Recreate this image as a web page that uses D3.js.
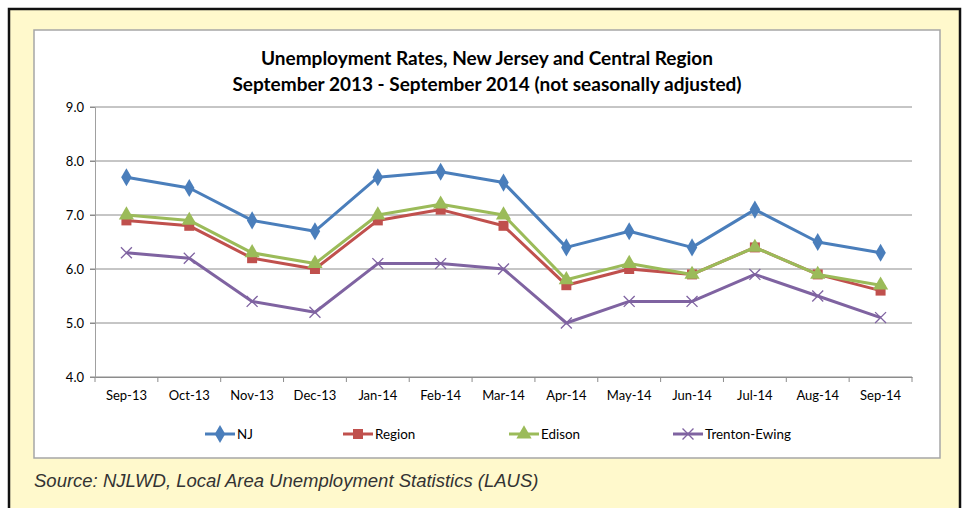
<!DOCTYPE html>
<html>
<head>
<meta charset="utf-8">
<script src="https://cdn.jsdelivr.net/npm/d3@7"></script>
<style>
  body { margin: 0; background: #ffffff; }
  svg text { font-family: Lato, "Open Sans", sans-serif; fill: #000; }
</style>
</head>
<body>
<div class="vis-holder"></div>
<script>
// months along the x axis
var months = ["Sep-13", "Oct-13", "Nov-13", "Dec-13", "Jan-14", "Feb-14", "Mar-14",
              "Apr-14", "May-14", "Jun-14", "Jul-14", "Aug-14", "Sep-14"];
// unemployment rate per series
var njRates      = [7.7, 7.5, 6.9, 6.7, 7.7, 7.8, 7.6, 6.4, 6.7, 6.4, 7.1, 6.5, 6.3];
var regionRates  = [6.9, 6.8, 6.2, 6.0, 6.9, 7.1, 6.8, 5.7, 6.0, 5.9, 6.4, 5.9, 5.6];
var edisonRates  = [7.0, 6.9, 6.3, 6.1, 7.0, 7.2, 7.0, 5.8, 6.1, 5.9, 6.4, 5.9, 5.7];
var trentonRates = [6.3, 6.2, 5.4, 5.2, 6.1, 6.1, 6.0, 5.0, 5.4, 5.4, 5.9, 5.5, 5.1];
var seriesNames  = ["NJ", "Region", "Edison", "Trenton-Ewing"];
var yTicks       = [4.0, 5.0, 6.0, 7.0, 8.0, 9.0];

var width = 964, height = 508;
var margin = { top: 107, bottom: 131, left: 95, right: 52 };

var svg = d3.select(".vis-holder")
            .append("svg")
            .attr("width", width)
            .attr("height", height);

// yellow frame with black border
svg.append("rect")
   .attr("x", 9).attr("y", 9)
   .attr("width", 951).attr("height", 510)
   .attr("fill", "#fff9cc")
   .attr("stroke", "#111")
   .attr("stroke-width", 2.5);

// white chart box
svg.append("rect")
   .attr("x", 34).attr("y", 30)
   .attr("width", 906).attr("height", 428)
   .attr("fill", "#fff")
   .attr("stroke", "#a6a6a6")
   .attr("stroke-width", 1.5);

var xScale = d3.scaleBand()
               .domain(months)
               .range([margin.left, width - margin.right]);

var yScale = d3.scaleLinear()
               .domain([4, 9])
               .range([height - margin.bottom, margin.top]);

// gridlines
svg.append("g")
   .selectAll("line")
   .data(yTicks)
   .enter()
   .append("line")
   .attr("x1", margin.left - 5)
   .attr("x2", width - margin.right)
   .attr("y1", function(d) { return yScale(d); })
   .attr("y2", function(d) { return yScale(d); })
   .attr("stroke", "#8c8c8c")
   .attr("stroke-width", 1);

// y axis
var yAxis = svg.append("g")
               .attr("transform", `translate(${margin.left}, 0)`)
               .call(d3.axisLeft(yScale).tickValues(yTicks).tickFormat(d3.format(".1f")).tickSize(5).tickPadding(6));
yAxis.select(".domain").attr("stroke", "#a0a0a0");
yAxis.selectAll(".tick line").attr("stroke", "#8c8c8c");
yAxis.selectAll("text").style("font-size", "13px");

// x axis, ticks on the category boundaries
var xAxis = svg.append("g")
               .attr("transform", `translate(0, ${yScale(4)})`)
               .call(d3.axisBottom(xScale).tickSize(0).tickPadding(14));
xAxis.select(".domain").attr("stroke", "#8c8c8c");
xAxis.selectAll("text").style("font-size", "13px");
xAxis.selectAll(".bound")
     .data(months.concat(["end"]))
     .enter()
     .append("line")
     .attr("x1", function(d, i) { return margin.left + i * xScale.step(); })
     .attr("x2", function(d, i) { return margin.left + i * xScale.step(); })
     .attr("y1", 0).attr("y2", 5)
     .attr("stroke", "#8c8c8c");

var colors = d3.scaleOrdinal()
               .domain(seriesNames)
               .range(["#4a7ebb", "#c0504d", "#9bbb59", "#7f63a1"]);

var seriesData = [njRates, regionRates, edisonRates, trentonRates];

var line = d3.line()
             .x(function(d, i) { return xScale(months[i]) + xScale.bandwidth() / 2; })
             .y(function(d) { return yScale(d); });

var symbols = [d3.symbolDiamond, d3.symbolSquare, d3.symbolTriangle, d3.symbolX];
var symbolSize = [95, 100, 100, 80];

function drawMarker(g, k, x, y) {
  var p = g.append("path")
           .attr("d", d3.symbol().type(symbols[k]).size(symbolSize[k])())
           .attr("transform", "translate(" + x + "," + y + ")");
  if (k === 3) {
    p.attr("fill", "none").attr("stroke", colors(seriesNames[k])).attr("stroke-width", 1.3);
  } else {
    p.attr("fill", colors(seriesNames[k]));
  }
}

seriesData.forEach(function(vals, k) {
  var g = svg.append("g");
  g.append("path")
   .attr("d", line(vals))
   .attr("fill", "none")
   .attr("stroke", colors(seriesNames[k]))
   .attr("stroke-width", 3)
   .attr("stroke-linejoin", "round");
  vals.forEach(function(v, i) {
    drawMarker(g, k, xScale(months[i]) + xScale.bandwidth() / 2, yScale(v));
  });
});

// legend
var legendX = [205, 343, 509, 673];
var legend = svg.append("g").attr("transform", "translate(0, 434)");
seriesNames.forEach(function(name, k) {
  var g = legend.append("g");
  g.append("line")
   .attr("x1", legendX[k]).attr("x2", legendX[k] + 30)
   .attr("y1", 0).attr("y2", 0)
   .attr("stroke", colors(name))
   .attr("stroke-width", 3);
  drawMarker(g, k, legendX[k] + 15, 0);
  g.append("text")
   .attr("x", legendX[k] + 32)
   .attr("y", 0)
   .attr("dy", "0.35em")
   .style("font-size", "13.4px")
   .text(name);
});

// chart title
svg.append("text")
   .attr("text-anchor", "middle")
   .attr("x", 487).attr("y", 65)
   .style("font-size", "19px")
   .style("font-weight", "bold")
   .text("Unemployment Rates, New Jersey and Central Region");
svg.append("text")
   .attr("text-anchor", "middle")
   .attr("x", 487).attr("y", 91)
   .style("font-size", "19px")
   .style("font-weight", "bold")
   .text("September 2013 - September 2014 (not seasonally adjusted)");

// source note
svg.append("text")
   .attr("x", 34).attr("y", 487)
   .style("font-family", "'Liberation Sans', Arial, sans-serif")
   .style("font-style", "italic")
   .style("font-size", "18.5px")
   .style("fill", "#333")
   .text("Source: NJLWD, Local Area Unemployment Statistics (LAUS)");
</script>
</body>
</html>
